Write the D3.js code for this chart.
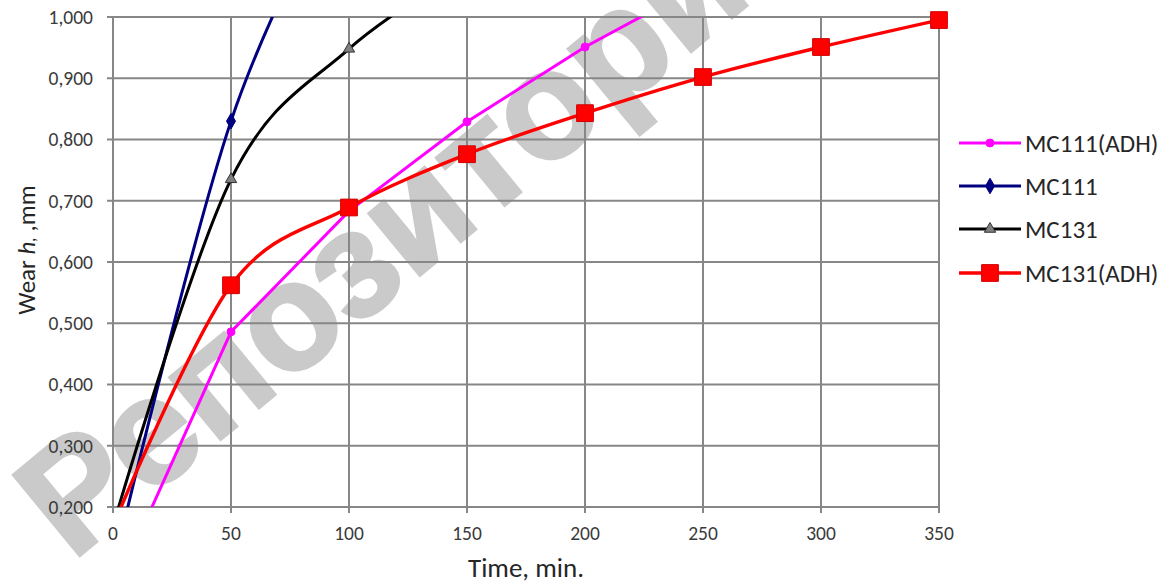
<!DOCTYPE html>
<html>
<head>
<meta charset="utf-8">
<script src="https://cdn.jsdelivr.net/npm/d3@7"></script>
<style>
  html, body { margin: 0; padding: 0; background: #fff; }
  svg { display: block; }
  text { font-family: Carlito, "Open Sans", sans-serif; }
</style>
</head>
<body>
<svg id="chart" width="1165" height="584"></svg>
<script>
// ---- data ----
const xTicks = [0, 50, 100, 150, 200, 250, 300, 350];
const yTicks = [0.2, 0.3, 0.4, 0.5, 0.6, 0.7, 0.8, 0.9, 1.0];

const mc111adhTime  = [0, 50, 100, 150, 200, 250];
const mc111adhWear  = [0.059, 0.486, 0.683, 0.829, 0.951, 1.055];

const mc111Time     = [0, 50, 100];
const mc111Wear     = [0.10, 0.83, 1.25];

const mc131Time     = [0, 50, 100, 150];
const mc131Wear     = [0.169, 0.735, 0.948, 1.08];

const mc131adhTime  = [0, 50, 100, 150, 200, 250, 300, 350];
const mc131adhWear  = [0.169, 0.562, 0.689, 0.776, 0.843, 0.902, 0.951, 0.995];

const seriesNames   = ["MC111(ADH)", "MC111", "MC131", "MC131(ADH)"];

// ---- layout ----
const svg = d3.select("#chart");
const plot = { left: 113, right: 939, top: 17, bottom: 507 };
const x = d3.scaleLinear().domain([0, 350]).range([plot.left, plot.right]);
const y = d3.scaleLinear().domain([0.2, 1.0]).range([plot.bottom, plot.top]);
const gridColor = "#878787";

// watermark
svg.append("text")
  .attr("transform", "translate(72,562) rotate(-39.5)")
  .attr("font-size", 152)
  .attr("font-weight", "bold")
  .style("font-family", "'Liberation Sans', Arial, sans-serif")
  .attr("fill", "#cacaca").attr("stroke", "#cacaca").attr("stroke-width", 3)
  .text("Репозиторий");

// grid
const g = svg.append("g");
g.selectAll(".hg").data(yTicks).join("line")
  .attr("x1", plot.left - 6).attr("x2", plot.right)
  .attr("y1", d => y(d)).attr("y2", d => y(d))
  .attr("stroke", gridColor).attr("stroke-width", 2);
g.selectAll(".vg").data(xTicks).join("line")
  .attr("x1", d => x(d)).attr("x2", d => x(d))
  .attr("y1", plot.top).attr("y2", plot.bottom + 6)
  .attr("stroke", gridColor).attr("stroke-width", 2);

// tick labels
g.selectAll(".yl").data(yTicks).join("text")
  .attr("x", 93).attr("y", d => y(d)).attr("dy", "0.35em")
  .attr("text-anchor", "end").attr("font-size", 19.5).attr("fill", "#3a3a3a")
  .text(d => d3.format(",.3f")(d).replace(".", ","));
g.selectAll(".xl").data(xTicks).join("text")
  .attr("x", d => x(d)).attr("y", 533).attr("dy", "0.35em")
  .attr("text-anchor", "middle").attr("font-size", 19.5).attr("fill", "#3a3a3a")
  .text(d => d);

// axis titles
svg.append("text").attr("x", (plot.left + plot.right) / 2).attr("y", 577)
  .attr("text-anchor", "middle").attr("font-size", 27).attr("fill", "#262626")
  .text("Time, min.");
const yt = svg.append("text")
  .attr("transform", "translate(35,250) rotate(-90)")
  .attr("text-anchor", "middle").attr("font-size", 25).attr("fill", "#262626");
yt.append("tspan").text("Wear ");
yt.append("tspan").attr("font-style", "italic").text("h");
yt.append("tspan").attr("font-style", "italic").attr("font-size", 18).text(",");
yt.append("tspan").text(" ,mm");

// clip
svg.append("clipPath").attr("id", "clip").append("rect")
  .attr("x", plot.left).attr("y", plot.top)
  .attr("width", plot.right - plot.left).attr("height", plot.bottom - plot.top);

const series = [
  { name: seriesNames[0], t: mc111adhTime, v: mc111adhWear, color: "#ff00ff", marker: "circle", mfill: "#ff00ff", mstroke: "#ff00ff", size: 50, width: 3, curve: d3.curveLinear },
  { name: seriesNames[1], t: mc111Time, v: mc111Wear, color: "#000080", marker: "diamond", mfill: "#000080", mstroke: "#000080", size: 70, width: 3, curve: d3.curveCardinal.tension(0) },
  { name: seriesNames[2], t: mc131Time, v: mc131Wear, color: "#000000", marker: "triangle", mfill: "#808080", mstroke: "#333", size: 55, width: 3, curve: d3.curveCardinal.tension(0) },
  { name: seriesNames[3], t: mc131adhTime, v: mc131adhWear, color: "#ff0000", marker: "square", mfill: "#ff0000", mstroke: "#d00000", size: 280, width: 3.4, curve: d3.curveCardinal.tension(0) }
];
const symbolType = { circle: d3.symbolCircle, diamond: d3.symbolDiamond, triangle: d3.symbolTriangle, square: d3.symbolSquare };

const dataG = svg.append("g");
series.forEach(s => {
  const pts = s.t.map((t, k) => [t, s.v[k]]);
  const line = d3.line().x(d => x(d[0])).y(d => y(d[1])).curve(s.curve);
  dataG.append("path").datum(pts)
    .attr("clip-path", "url(#clip)")
    .attr("fill", "none").attr("stroke", s.color).attr("stroke-width", s.width)
    .attr("stroke-linejoin", "round")
    .attr("d", line);
  const vis = pts.filter(p => p[1] >= 0.2 && p[1] <= 1.0 && p[0] > 0);
  dataG.selectAll(null).data(vis).join("path")
    .attr("transform", p => `translate(${x(p[0])},${y(p[1])})`)
    .attr("d", d3.symbol().type(symbolType[s.marker]).size(s.size))
    .attr("fill", s.mfill).attr("stroke", s.mstroke).attr("stroke-width", 1);
});

// legend
const legRows = [143, 186, 229, 273];
const leg = svg.append("g");
series.forEach((s, i) => {
  const yy = legRows[i];
  leg.append("line").attr("x1", 959).attr("x2", 1021).attr("y1", yy).attr("y2", yy)
    .attr("stroke", s.color).attr("stroke-width", s.width);
  leg.append("path").attr("transform", `translate(990,${yy})`)
    .attr("d", d3.symbol().type(symbolType[s.marker]).size(s.size))
    .attr("fill", s.mfill).attr("stroke", s.mstroke).attr("stroke-width", 1);
  leg.append("text").attr("x", 1025).attr("y", yy).attr("dy", "0.35em")
    .attr("font-size", 25).attr("fill", "#262626").text(s.name);
});
</script>
</body>
</html>
